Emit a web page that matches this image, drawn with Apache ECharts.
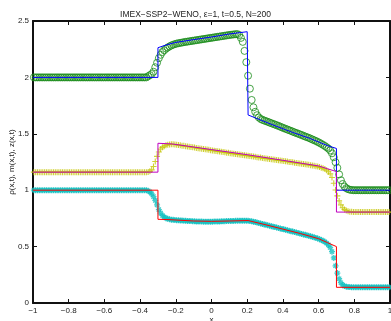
<!DOCTYPE html>
<html>
<head>
<meta charset="utf-8">
<script src="https://cdn.jsdelivr.net/npm/echarts@6/dist/echarts.min.js"></script>
<style>
  html, body { margin: 0; padding: 0; background: #fff; }
  #chart { width: 391px; height: 321px; }
</style>
</head>
<body>
<div id="chart"></div>
<script>
// cell centres, N=200
var xs = [
  -0.995,-0.985,-0.975,-0.965,-0.955,-0.945,-0.935,-0.925,-0.915,-0.905,
  -0.895,-0.885,-0.875,-0.865,-0.855,-0.845,-0.835,-0.825,-0.815,-0.805,
  -0.795,-0.785,-0.775,-0.765,-0.755,-0.745,-0.735,-0.725,-0.715,-0.705,
  -0.695,-0.685,-0.675,-0.665,-0.655,-0.645,-0.635,-0.625,-0.615,-0.605,
  -0.595,-0.585,-0.575,-0.565,-0.555,-0.545,-0.535,-0.525,-0.515,-0.505,
  -0.495,-0.485,-0.475,-0.465,-0.455,-0.445,-0.435,-0.425,-0.415,-0.405,
  -0.395,-0.385,-0.375,-0.365,-0.355,-0.345,-0.335,-0.325,-0.315,-0.305,
  -0.295,-0.285,-0.275,-0.265,-0.255,-0.245,-0.235,-0.225,-0.215,-0.205,
  -0.195,-0.185,-0.175,-0.165,-0.155,-0.145,-0.135,-0.125,-0.115,-0.105,
  -0.095,-0.085,-0.075,-0.065,-0.055,-0.045,-0.035,-0.025,-0.015,-0.005,
  0.005,0.015,0.025,0.035,0.045,0.055,0.065,0.075,0.085,0.095,
  0.105,0.115,0.125,0.135,0.145,0.155,0.165,0.175,0.185,0.195,
  0.205,0.215,0.225,0.235,0.245,0.255,0.265,0.275,0.285,0.295,
  0.305,0.315,0.325,0.335,0.345,0.355,0.365,0.375,0.385,0.395,
  0.405,0.415,0.425,0.435,0.445,0.455,0.465,0.475,0.485,0.495,
  0.505,0.515,0.525,0.535,0.545,0.555,0.565,0.575,0.585,0.595,
  0.605,0.615,0.625,0.635,0.645,0.655,0.665,0.675,0.685,0.695,
  0.705,0.715,0.725,0.735,0.745,0.755,0.765,0.775,0.785,0.795,
  0.805,0.815,0.825,0.835,0.845,0.855,0.865,0.875,0.885,0.895,
  0.905,0.915,0.925,0.935,0.945,0.955,0.965,0.975,0.985,0.995
]

// numerical rho (circles)
var rhoNum = [
  2.00,2.00,2.00,2.00,2.00,2.00,2.00,2.00,2.00,2.00,
  2.00,2.00,2.00,2.00,2.00,2.00,2.00,2.00,2.00,2.00,
  2.00,2.00,2.00,2.00,2.00,2.00,2.00,2.00,2.00,2.00,
  2.00,2.00,2.00,2.00,2.00,2.00,2.00,2.00,2.00,2.00,
  2.00,2.00,2.00,2.00,2.00,2.00,2.00,2.00,2.00,2.00,
  2.00,2.00,2.00,2.00,2.00,2.00,2.00,2.00,2.00,2.00,
  2.00,2.00,2.00,2.00,2.01,2.02,2.03,2.05,2.09,2.13,
  2.17,2.20,2.225,2.24,2.255,2.265,2.275,2.283,2.29,2.295,
  2.30,2.303,2.306,2.309,2.312,2.315,2.317,2.32,2.322,2.325,
  2.327,2.33,2.332,2.335,2.337,2.34,2.342,2.345,2.347,2.35,
  2.352,2.355,2.357,2.36,2.362,2.365,2.367,2.37,2.372,2.375,
  2.377,2.379,2.381,2.383,2.384,2.376,2.35,2.315,2.235,2.135,
  2.015,1.90,1.80,1.735,1.695,1.665,1.645,1.632,1.624,1.618,
  1.612,1.606,1.60,1.594,1.588,1.582,1.576,1.57,1.563,1.557,
  1.55,1.544,1.538,1.532,1.526,1.519,1.513,1.507,1.501,1.495,
  1.489,1.482,1.476,1.47,1.464,1.457,1.45,1.443,1.436,1.428,
  1.42,1.411,1.402,1.392,1.381,1.369,1.352,1.327,1.292,1.248,
  1.198,1.14,1.088,1.055,1.032,1.018,1.009,1.004,1.002,1.00,
  1.00,1.00,1.00,1.00,1.00,1.00,1.00,1.00,1.00,1.00,
  1.00,1.00,1.00,1.00,1.00,1.00,1.00,1.00,1.00,1.00
]

// numerical m (plus)
var mNum = [
  1.16,1.16,1.16,1.16,1.16,1.16,1.16,1.16,1.16,1.16,
  1.16,1.16,1.16,1.16,1.16,1.16,1.16,1.16,1.16,1.16,
  1.16,1.16,1.16,1.16,1.16,1.16,1.16,1.16,1.16,1.16,
  1.16,1.16,1.16,1.16,1.16,1.16,1.16,1.16,1.16,1.16,
  1.16,1.16,1.16,1.16,1.16,1.16,1.16,1.16,1.16,1.16,
  1.16,1.16,1.16,1.16,1.16,1.16,1.16,1.16,1.16,1.16,
  1.16,1.16,1.16,1.16,1.162,1.167,1.18,1.21,1.255,1.30,
  1.338,1.365,1.38,1.39,1.398,1.403,1.406,1.407,1.407,1.405,
  1.403,1.40,1.398,1.395,1.393,1.39,1.388,1.385,1.383,1.38,
  1.378,1.375,1.373,1.37,1.368,1.365,1.363,1.36,1.358,1.355,
  1.353,1.35,1.348,1.345,1.343,1.34,1.338,1.336,1.333,1.331,
  1.328,1.326,1.324,1.321,1.319,1.317,1.314,1.312,1.31,1.307,
  1.305,1.303,1.30,1.298,1.296,1.293,1.291,1.289,1.286,1.284,
  1.282,1.279,1.277,1.275,1.272,1.27,1.268,1.265,1.263,1.261,
  1.258,1.256,1.254,1.251,1.249,1.247,1.244,1.242,1.24,1.237,
  1.235,1.232,1.23,1.227,1.225,1.222,1.219,1.216,1.213,1.209,
  1.205,1.20,1.195,1.187,1.177,1.163,1.145,1.112,1.062,1.002,
  0.95,0.905,0.87,0.845,0.83,0.82,0.814,0.81,0.808,0.806,
  0.806,0.806,0.806,0.806,0.806,0.806,0.806,0.806,0.806,0.806,
  0.806,0.806,0.806,0.806,0.806,0.806,0.806,0.806,0.806,0.806
]

// numerical z (stars)
var zNum = [
  1.00,1.00,1.00,1.00,1.00,1.00,1.00,1.00,1.00,1.00,
  1.00,1.00,1.00,1.00,1.00,1.00,1.00,1.00,1.00,1.00,
  1.00,1.00,1.00,1.00,1.00,1.00,1.00,1.00,1.00,1.00,
  1.00,1.00,1.00,1.00,1.00,1.00,1.00,1.00,1.00,1.00,
  1.00,1.00,1.00,1.00,1.00,1.00,1.00,1.00,1.00,1.00,
  1.00,1.00,1.00,1.00,1.00,1.00,1.00,1.00,1.00,1.00,
  1.00,1.00,1.00,1.00,0.995,0.985,0.968,0.943,0.91,0.87,
  0.828,0.797,0.776,0.762,0.752,0.746,0.742,0.739,0.737,0.735,
  0.734,0.733,0.732,0.731,0.73,0.729,0.728,0.727,0.726,0.725,
  0.724,0.723,0.723,0.722,0.722,0.721,0.721,0.721,0.721,0.721,
  0.721,0.722,0.722,0.723,0.723,0.724,0.725,0.725,0.726,0.727,
  0.727,0.728,0.728,0.729,0.729,0.73,0.73,0.73,0.73,0.73,
  0.729,0.727,0.724,0.721,0.717,0.713,0.709,0.705,0.701,0.697,
  0.693,0.689,0.685,0.681,0.677,0.673,0.669,0.665,0.661,0.657,
  0.653,0.649,0.645,0.641,0.637,0.633,0.629,0.625,0.621,0.617,
  0.612,0.608,0.604,0.60,0.596,0.591,0.587,0.582,0.577,0.572,
  0.566,0.559,0.551,0.542,0.53,0.515,0.492,0.455,0.40,0.33,
  0.265,0.215,0.18,0.16,0.15,0.145,0.142,0.141,0.14,0.14,
  0.14,0.14,0.14,0.14,0.14,0.14,0.14,0.14,0.14,0.14,
  0.14,0.14,0.14,0.14,0.14,0.14,0.14,0.14,0.14,0.14
]

// reference solutions (solid lines)
var rhoExX = [-1, -0.3, -0.3, -0.25, -0.2, -0.1, 0, 0.1, 0.2, 0.205, 0.205, 0.26, 0.35, 0.45, 0.55, 0.65, 0.7, 0.7, 1]
var rhoExY = [2.0, 2.0, 2.263, 2.29, 2.31, 2.335, 2.358, 2.385, 2.405, 2.41, 1.667, 1.632, 1.575, 1.515, 1.46, 1.395, 1.37, 1.0, 1.0]
var mExX = [-1, -0.3, -0.3, -0.22, 0, 0.2, 0.4, 0.6, 0.65, 0.7, 0.7, 1]
var mExY = [1.16, 1.16, 1.416, 1.41, 1.36, 1.315, 1.265, 1.215, 1.19, 1.165, 0.806, 0.806]
var zExX = [-1, -0.3, -0.3, -0.25, -0.1, 0, 0.1, 0.205, 0.3, 0.4, 0.5, 0.6, 0.65, 0.7, 0.7, 1]
var zExY = [1.0, 1.0, 0.742, 0.74, 0.727, 0.724, 0.727, 0.731, 0.695, 0.655, 0.615, 0.57, 0.535, 0.5, 0.139, 0.139]

var xTicks = { min: -1, max: 1, interval: 0.2 }
var yTicks = { min: 0, max: 2.5, interval: 0.5 }

var colGreen = '#1a8c1a'
var colYellow = '#c4c400'
var colCyan = '#13c0c0'

function pairs(a, b) {
  return a.map(function (v, i) { return [v, b[i]] })
}

var myChart = echarts.init(document.getElementById('chart'))

var axisLine = { show: true, onZero: false, lineStyle: { color: '#111', width: 2 } }
var tick = { show: true, inside: true, length: 4, lineStyle: { color: '#111', width: 1 } }
var label = { fontSize: 8, color: '#222', fontFamily: 'Liberation Sans' }

var plusPath = 'path://M5,0L5,10M0,5L10,5'
var starPath = 'path://M5,0L5,10M0,5L10,5M1.5,1.5L8.5,8.5M8.5,1.5L1.5,8.5'

var option = {
  animation: false,
  title: {
    text: 'IMEX\u2212SSP2\u2212WENO, \u03b5=1, t=0.5, N=200',
    left: 'center',
    top: 5,
    textStyle: { fontSize: 8.5, fontWeight: 'normal', color: '#222', fontFamily: 'Liberation Sans' }
  },
  grid: { left: 33, right: 1, top: 21, bottom: 18, containLabel: false, outerBoundsMode: 'none' },
  xAxis: [
    {
      type: 'value', position: 'bottom',
      min: xTicks.min, max: xTicks.max, interval: xTicks.interval,
      axisLine: axisLine, axisTick: tick, splitLine: { show: false },
      axisLabel: Object.assign({ margin: 4, formatter: function (v) { return String(Math.round(v * 10) / 10).replace('-', '\u2212') } }, label),
      name: 'x', nameLocation: 'middle', nameGap: 13, nameMoveOverlap: false,
      nameTextStyle: { fontSize: 8, color: '#222', fontFamily: 'Liberation Sans' }
    },
    {
      type: 'value', position: 'top',
      min: xTicks.min, max: xTicks.max, interval: xTicks.interval,
      axisLine: axisLine, axisTick: tick, axisLabel: { show: false }, splitLine: { show: false }
    }
  ],
  yAxis: [
    {
      type: 'value', position: 'left',
      min: yTicks.min, max: yTicks.max, interval: yTicks.interval,
      axisLine: axisLine, axisTick: tick, splitLine: { show: false },
      axisLabel: Object.assign({ margin: 4 }, label),
      name: '\u03c1(x,t), m(x,t), z(x,t)', nameLocation: 'middle', nameGap: 17, nameMoveOverlap: false,
      nameTextStyle: { fontSize: 8, color: '#222', fontFamily: 'Liberation Sans' }
    },
    {
      type: 'value', position: 'right',
      min: yTicks.min, max: yTicks.max, interval: yTicks.interval,
      axisLine: axisLine, axisTick: tick, axisLabel: { show: false }, splitLine: { show: false }
    }
  ],
  series: [
    {
      type: 'scatter', symbol: 'circle', symbolSize: 7,
      itemStyle: { color: 'rgba(0,0,0,0)', borderColor: colGreen, borderWidth: 1 },
      data: pairs(xs, rhoNum)
    },
    {
      type: 'scatter', symbol: plusPath, symbolSize: 6,
      itemStyle: { color: 'none', borderColor: colYellow, borderWidth: 1.1 },
      data: pairs(xs, mNum)
    },
    {
      type: 'scatter', symbol: starPath, symbolSize: 6,
      itemStyle: { color: 'none', borderColor: colCyan, borderWidth: 1.3 },
      data: pairs(xs, zNum)
    },
    {
      type: 'line', showSymbol: false, symbol: 'none',
      lineStyle: { color: '#0000ff', width: 1 },
      data: pairs(rhoExX, rhoExY)
    },
    {
      type: 'line', showSymbol: false, symbol: 'none',
      lineStyle: { color: '#c000c0', width: 1 },
      data: pairs(mExX, mExY)
    },
    {
      type: 'line', showSymbol: false, symbol: 'none',
      lineStyle: { color: '#ff0000', width: 1 },
      data: pairs(zExX, zExY)
    }
  ]
}

myChart.setOption(option)
window.onresize = myChart.resize
</script>
</body>
</html>
